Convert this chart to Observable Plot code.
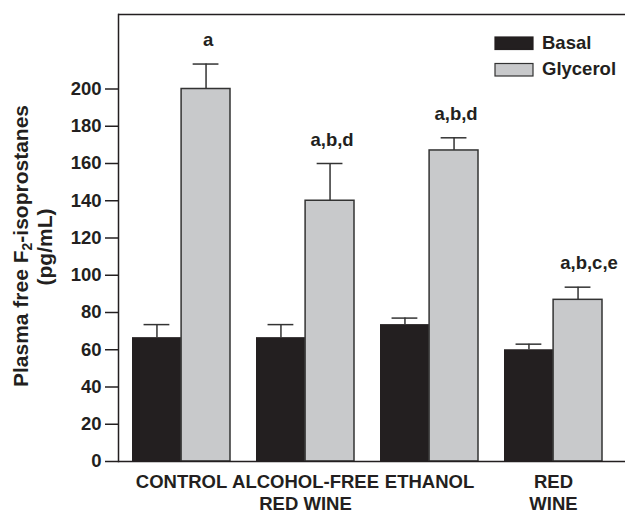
<!DOCTYPE html>
<html>
<head>
<meta charset="utf-8">
<script src="https://cdn.jsdelivr.net/npm/d3@7"></script>
<script src="https://cdn.jsdelivr.net/npm/@observablehq/plot@0.6"></script>
<style>
  html, body { margin: 0; padding: 0; background: #fff; }
  #chart { width: 625px; height: 515px; overflow: hidden; }
</style>
</head>
<body>
<div id="chart"></div>
<script>
// ---- data ----
const categories = ["CONTROL", "ALCOHOL-FREE\nRED WINE", "ETHANOL", "RED\nWINE"];
const seriesNames = ["Basal", "Glycerol"];
const basal = [66.5, 66.5, 73.5, 60];
const basalErr = [7, 7, 3.5, 3];
const glycerol = [200, 140, 167, 86.8];
const glycerolErr = [13.4, 20, 6.8, 6.8];
const letters = ["a", "a,b,d", "a,b,d", "a,b,c,e"];
const yTicks = [0, 20, 40, 60, 80, 100, 120, 140, 160, 180, 200];
const yTitleLine1 = ["Plasma free F", "2", "-isoprostanes"];
const yTitleLine2 = "(pg/mL)";

const rows = categories.map((c, i) => ({
  cat: c, basal: basal[i], basalErr: basalErr[i],
  glycerol: glycerol[i], glycerolErr: glycerolErr[i], letter: letters[i], i
}));

const ink = "#231f20";
const grey = "#c8c9cb";
const font = "'Liberation Sans', Arial, Helvetica, sans-serif";

const band = 98.2, half = band / 2, q = band / 4;

const chart = Plot.plot({
  width: 625,
  height: 515,
  marginTop: 14,
  marginBottom: 54,
  marginLeft: 118,
  marginRight: 0,
  style: { fontFamily: font, fontSize: "18.5px", fontWeight: "bold", color: ink, background: "white" },
  x: { domain: categories, range: [118, 615], paddingInner: 0.21, paddingOuter: 0.105 },
  y: { domain: [0, 240] },
  marks: [
    Plot.axisY({ ticks: yTicks, tickSize: 13, tickPadding: 4, label: null, strokeWidth: 1.5, stroke: ink, fill: ink }),
    Plot.axisX({ tickSize: 0, tickPadding: 11, label: null, lineHeight: 1.2, fill: ink }),
    // error bars
    Plot.ruleX(rows, { x: "cat", y1: "basal", y2: d => d.basal + d.basalErr, dx: -q, stroke: "#333", strokeWidth: 1.5 }),
    Plot.ruleX(rows, { x: "cat", y1: "glycerol", y2: d => d.glycerol + d.glycerolErr, dx: q, stroke: "#333", strokeWidth: 1.5 }),
    Plot.tickY(rows, { x: "cat", y: d => d.basal + d.basalErr, insetLeft: q - 13, insetRight: band - q - 13, stroke: "#333", strokeWidth: 1.5 }),
    Plot.tickY(rows, { x: "cat", y: d => d.glycerol + d.glycerolErr, insetLeft: half + q - 13, insetRight: q - 13, stroke: "#333", strokeWidth: 1.5 }),
    // bars
    Plot.barY(rows, { x: "cat", y: "basal", insetRight: half, fill: ink }),
    Plot.barY(rows, { x: "cat", y: "glycerol", insetLeft: half, fill: grey, stroke: "#333", strokeWidth: 1.5 }),
    // significance letters
    Plot.text(rows.filter(d => d.i < 3), { x: "cat", y: d => d.glycerol + d.glycerolErr, text: "letter", dx: q + 2, dy: -18, lineAnchor: "bottom", fill: ink }),
    Plot.text(rows.filter(d => d.i === 3), { x: "cat", y: d => d.glycerol + d.glycerolErr, text: "letter", dx: q + 11, dy: -18, lineAnchor: "bottom", fill: ink }),
    // frame lines
    Plot.ruleY([0, 240], { stroke: ink, strokeWidth: 1.5 }),
    Plot.frame({ anchor: "left", stroke: ink, strokeWidth: 1.5 })
  ]
});

document.getElementById("chart").appendChild(chart);

// legend and y-axis title drawn into the same SVG
const svg = d3.select(chart);
const leg = svg.append("g").attr("font-family", font).attr("font-weight", "bold")
  .attr("font-size", "18.5px").attr("fill", ink).attr("text-anchor", "start");
const legFills = [ink, grey];
const legY = [37, 63.5];
seriesNames.forEach((s, i) => {
  leg.append("rect").attr("x", 495).attr("y", legY[i]).attr("width", 38).attr("height", 12.5)
    .attr("fill", legFills[i]).attr("stroke", i === 1 ? "#333" : ink).attr("stroke-width", 1.2);
  leg.append("text").attr("x", 542).attr("y", legY[i] + 11.5).attr("text-anchor", "start").text(s);
});

const title = svg.append("text")
  .attr("transform", "translate(28,246) rotate(-90)")
  .attr("text-anchor", "middle")
  .attr("font-family", font).attr("font-weight", "bold").attr("font-size", "21px").attr("fill", ink);
title.append("tspan").text(yTitleLine1[0]);
title.append("tspan").attr("font-size", "14px").attr("dy", "4").text(yTitleLine1[1]);
title.append("tspan").attr("dy", "-4").text(yTitleLine1[2]);
svg.append("text")
  .attr("transform", "translate(52,247) rotate(-90)")
  .attr("text-anchor", "middle")
  .attr("font-family", font).attr("font-weight", "bold").attr("font-size", "21px").attr("fill", ink)
  .text(yTitleLine2);
</script>
</body>
</html>
